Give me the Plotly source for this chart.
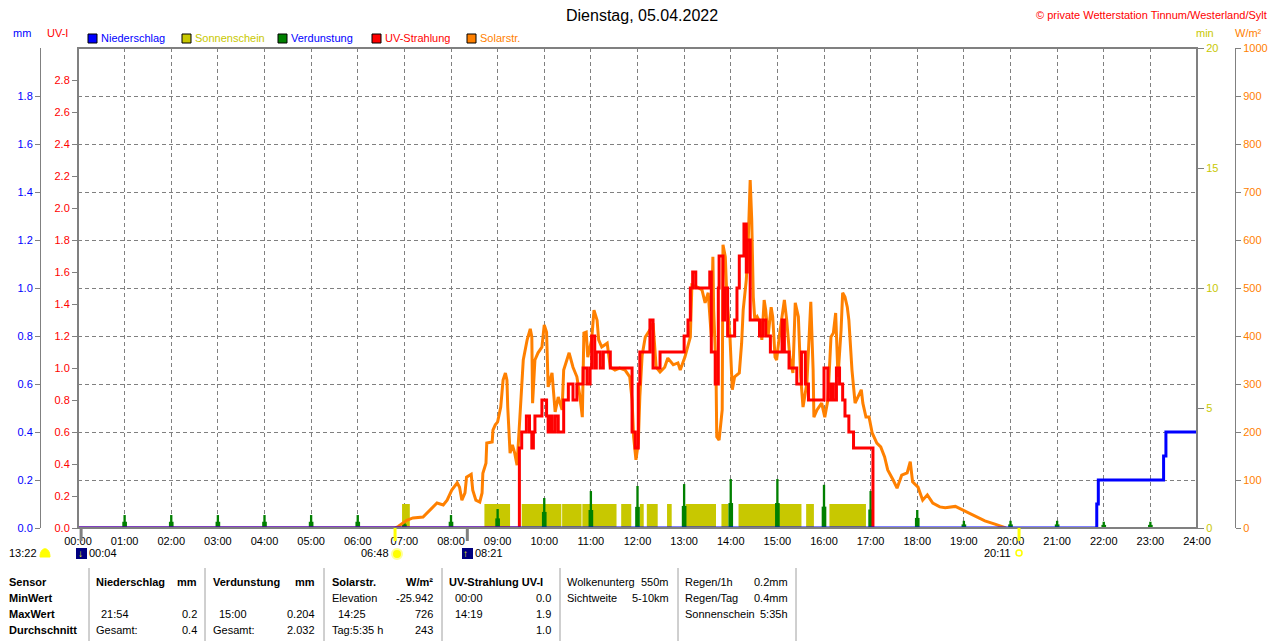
import plotly.graph_objects as go

# ---- data --------------------------------------------------------------
hour_ticks = list(range(0, 25))
hour_labels = ["%02d:00" % h for h in hour_ticks]

# solar radiation W/m2
solar_time = ["06:48", "06:52", "07:03", "07:11", "07:24", "07:33", "07:42", "07:50", "07:55", "08:01",
              "08:08", "08:11", "08:14", "08:18", "08:20", "08:26", "08:28", "08:32", "08:37", "08:40",
              "08:41", "08:45", "08:46", "08:53", "08:54", "08:57", "09:00", "09:04", "09:07", "09:10",
              "09:12", "09:13", "09:16", "09:19", "09:22", "09:25", "09:26", "09:29", "09:33", "09:38",
              "09:42", "09:44", "09:45", "09:48", "09:52", "09:57", "10:00", "10:03", "10:05", "10:10",
              "10:14", "10:18", "10:23", "10:25", "10:29", "10:32", "10:37", "10:42", "10:46", "10:49",
              "10:51", "10:54", "10:56", "11:01", "11:04", "11:08", "11:10", "11:14", "11:21", "11:25",
              "11:31", "11:37", "11:44", "11:50", "11:53", "11:55", "11:58", "12:01", "12:03", "12:06",
              "12:10", "12:16", "12:20", "12:24", "12:29", "12:35", "12:39", "12:46", "12:52", "12:55",
              "13:01", "13:08", "13:10", "13:17", "13:23", "13:27", "13:31", "13:35", "13:37", "13:38",
              "13:41", "13:42", "13:45", "13:49", "13:50", "13:53", "13:55", "13:59", "14:02", "14:05",
              "14:11", "14:14", "14:16", "14:20", "14:22", "14:25", "14:27", "14:29", "14:31", "14:34",
              "14:38", "14:40", "14:43", "14:45", "14:48", "14:52", "14:54", "14:57", "14:59", "15:03",
              "15:09", "15:12", "15:16", "15:20", "15:23", "15:27", "15:30", "15:33", "15:38", "15:43",
              "15:46", "15:47", "15:51", "15:57", "16:01", "16:05", "16:09", "16:12", "16:15", "16:18",
              "16:22", "16:24", "16:27", "16:30", "16:32", "16:36", "16:40", "16:44", "16:48", "16:50",
              "16:54", "16:58", "17:02", "17:08", "17:13", "17:18", "17:22", "17:29", "17:34", "17:40",
              "17:47", "17:51", "17:54", "18:01", "18:07", "18:13", "18:20", "18:29", "18:36", "18:49",
              "19:01", "19:14", "19:27", "19:40", "19:50", "19:54"]
solar_wm2 = [0, 3, 16, 21, 23, 37, 52, 48, 58, 79,
             94, 85, 58, 73, 106, 112, 79, 58, 54, 73,
             114, 135, 177, 179, 204, 215, 221, 252, 308, 323,
             308, 252, 156, 173, 156, 131, 156, 231, 350, 392,
             415, 398, 260, 350, 365, 377, 423, 408, 294, 323,
             242, 273, 246, 329, 350, 365, 335, 315, 273, 231,
             406, 408, 356, 392, 454, 433, 392, 377, 385, 335,
             329, 333, 329, 315, 267, 190, 142, 177, 273, 360,
             398, 413, 427, 335, 325, 335, 354, 340, 344, 329,
             356, 398, 506, 502, 496, 469, 490, 398, 565, 454,
             329, 190, 183, 246, 590, 565, 481, 398, 288, 315,
             323, 385, 454, 517, 573, 725, 642, 481, 433, 440,
             427, 392, 475, 454, 398, 460, 440, 356, 350, 406,
             475, 433, 356, 323, 469, 440, 315, 252, 302, 471,
             329, 231, 246, 260, 231, 267, 398, 406, 448, 315,
             413, 490, 481, 460, 433, 329, 260, 273, 288, 260,
             231, 231, 198, 177, 169, 148, 121, 100, 83, 110,
             115, 138, 96, 85, 58, 69, 52, 44, 42, 45,
             35, 25, 15, 8, 2, 0]

# UV index (step line)
uv_time = ["00:00", "09:28", "09:31", "09:37", "09:41", "09:44", "09:46", "09:48", "09:57", "10:03",
           "10:05", "10:07", "10:10", "10:14", "10:18", "10:25", "10:31", "10:37", "10:42", "10:50",
           "10:55", "10:59", "11:01", "11:05", "11:07", "11:12", "11:16", "11:25", "11:53", "11:57",
           "12:01", "12:03", "12:16", "12:20", "12:29", "13:00", "13:05", "13:08", "13:11", "13:15",
           "13:33", "13:35", "13:40", "13:44", "13:45", "13:50", "13:52", "13:56", "14:05", "14:08",
           "14:11", "14:17", "14:20", "14:21", "14:25", "14:37", "14:41", "14:45", "14:51", "15:06",
           "15:09", "15:15", "15:25", "15:31", "15:36", "15:40", "16:00", "16:05", "16:09", "16:12",
           "16:16", "16:20", "16:24", "16:27", "16:32", "16:38", "17:03"]
uv_index = [0, 0.5, 0.6, 0.7, 0.6, 0.5, 0.6, 0.7, 0.8, 0.7,
            0.6, 0.7, 0.6, 0.7, 0.6, 0.8, 0.9, 0.8, 0.9, 1.0,
            0.9, 1.0, 1.2, 1.0, 1.1, 1.0, 1.1, 1.0, 0.6, 0.5,
            0.9, 1.1, 1.3, 1.0, 1.1, 1.2, 1.3, 1.5, 1.6, 1.5,
            1.6, 1.1, 0.9, 1.5, 1.7, 1.3, 1.5, 1.2, 1.3, 1.5,
            1.7, 1.9, 1.6, 1.8, 1.3, 1.2, 1.3, 1.2, 1.1, 1.3,
            1.1, 1.0, 0.9, 1.1, 0.9, 0.8, 1.0, 0.8, 0.9, 0.8,
            1.0, 0.9, 0.8, 0.7, 0.6, 0.5, 0.0]

# sunshine periods (1 min per minute of sun)
sun_start = ["06:57", "08:43", "09:31", "10:23", "10:49", "11:39", "12:03", "12:12", "12:38",
             "13:02", "13:48", "14:10", "15:37", "16:07"]
sun_end = ["07:07", "09:16", "10:22", "10:48", "11:33", "11:52", "12:08", "12:26", "12:44",
           "13:41", "13:57", "15:31", "15:47", "16:54"]
sun_min = 1

# evaporation per hour (mm), spike top and its wider base
evap_hour = list(range(0, 24))
evap_top = [0, .054, .054, .054, .054, .054, .054, .026, .054, .079, .125, .154, .175, .183,
            .204, .204, .18, .154, .075, .03, .03, .03, .026, .026]
evap_base = [0, .026, .026, .026, .026, .026, .026, .015, .026, .04, .067, .075, .088, .092,
             .104, .104, .089, .077, .042, .015, .015, .015, .013, .013]

# precipitation cumulative (mm)
rain_time = ["00:00", "21:51", "21:53", "23:17", "23:20", "24:00"]
rain_mm = [0, 0.1, 0.2, 0.3, 0.4, 0.4]

# sun / moon events
events = [("00:04", "#808080"), ("06:48", "#ffff00"), ("08:21", "#808080"), ("20:11", "#ffff00")]


def hm(s):
    h, m = s.split(":")
    return int(h) + int(m) / 60


# page has an 8px body margin, so the figure is 8px smaller and shifted
OFF = 8
W, H = 1280 - OFF, 641 - OFF
FONT = "Liberation Sans"
GRAY = "#808080"
OLIVE = "#c8c800"
ORANGE = "#ff8000"


def px(x):
    return (x - OFF) / W


def py(y):
    return 1 - (y - OFF) / H


X0, X1, Y0, Y1 = 78, 1197, 48, 528

fig = go.Figure()

sun_s = [hm(t) for t in sun_start]
sun_e = [hm(t) for t in sun_end]
fig.add_trace(go.Bar(x=[(a + b) / 2 for a, b in zip(sun_s, sun_e)], y=[sun_min] * len(sun_s),
                     width=[b - a for a, b in zip(sun_s, sun_e)], marker=dict(color=OLIVE, line_width=0),
                     yaxis="y", hoverinfo="skip"))

fig.add_trace(go.Bar(x=evap_hour, y=evap_base, width=0.1, marker=dict(color="#008000", line_width=0),
                     yaxis="y2", hoverinfo="skip"))
fig.add_trace(go.Bar(x=evap_hour, y=evap_top, width=0.05, marker=dict(color="#008000", line_width=0),
                     yaxis="y2", hoverinfo="skip"))

fig.add_trace(go.Scatter(x=[hm(t) for t in solar_time], y=solar_wm2, mode="lines",
                         line=dict(color=ORANGE, width=3), yaxis="y3", hoverinfo="skip"))

fig.add_trace(go.Scatter(x=[hm(t) for t in uv_time], y=uv_index, mode="lines",
                         line=dict(color="#ff0000", width=3, shape="hv"), yaxis="y4", hoverinfo="skip"))

fig.add_trace(go.Scatter(x=[hm(t) for t in rain_time], y=rain_mm, mode="lines",
                         line=dict(color="#0000ff", width=3, shape="hv"), yaxis="y5", hoverinfo="skip"))

tick_font = dict(family=FONT, size=11)
grid = dict(showgrid=True, gridcolor=GRAY, gridwidth=1, griddash="4px,3px")

fig.update_layout(
    template="none",
    width=W, height=H, margin=dict(l=0, r=0, t=0, b=0, pad=0),
    paper_bgcolor="white", plot_bgcolor="white", showlegend=False, barmode="overlay",
    font=dict(family=FONT, size=11, color="black"),
    xaxis=dict(domain=[px(X0), px(X1)], range=[0, 24], tickvals=hour_ticks, ticktext=hour_labels,
               ticks="outside", ticklen=3, tickcolor="rgba(0,0,0,0)", zeroline=False, showline=False,
               automargin=False, tickfont=dict(tick_font, color="black"), **grid),
    yaxis=dict(domain=[py(Y1), py(Y0)], range=[0, 20], side="right", anchor="x",
               tickvals=[0, 5, 10, 15, 20], ticks="outside", ticklen=6, tickcolor=GRAY, automargin=False,
               showgrid=False, zeroline=False, tickfont=dict(tick_font, color=OLIVE)),
    yaxis2=dict(overlaying="y", side="left", anchor="free", position=px(40), range=[0, 2],
                tickvals=[i / 5 for i in range(10)], ticktext=["%.1f" % (i / 5) for i in range(10)],
                ticks="outside", ticklen=5, tickcolor=GRAY, showline=True, linecolor=GRAY, linewidth=1,
                zeroline=False, automargin=False, tickfont=dict(tick_font, color="#0000ff"), **grid),
    yaxis3=dict(overlaying="y", side="right", anchor="free", position=px(1235), range=[0, 1000],
                tickvals=list(range(0, 1001, 100)), ticks="outside", ticklen=5, tickcolor=GRAY,
                showline=True, linecolor=GRAY, linewidth=1, showgrid=False, zeroline=False,
                automargin=False, tickfont=dict(tick_font, color=ORANGE)),
    yaxis4=dict(overlaying="y", side="left", anchor="x", range=[0, 3],
                tickvals=[i / 5 for i in range(15)], ticktext=["%.1f" % (i / 5) for i in range(15)],
                ticks="outside", ticklen=5, tickcolor=GRAY, showgrid=False, zeroline=False,
                automargin=False, tickfont=dict(tick_font, color="#ff0000")),
    yaxis5=dict(overlaying="y", range=[0, 2], visible=False, automargin=False),
)

shapes = []
# plot frame
shapes.append(dict(type="rect", xref="paper", yref="paper", x0=px(X0), x1=px(X1), y0=py(Y1), y1=py(Y0),
                   line=dict(color=GRAY, width=2), layer="above"))

# sun / moon event marks under the axis
for t, c in events:
    shapes.append(dict(type="line", xref="x", yref="paper", x0=hm(t), x1=hm(t), y0=py(Y1), y1=py(541),
                       line=dict(color=c, width=3)))

ann = []


def txt(x, y, s, color="black", anchor="left", size=11, bold=False):
    if bold:
        s = "<b>" + s + "</b>"
    ann.append(dict(x=px(x), y=py(y), xref="paper", yref="paper", text=s, showarrow=False,
                    xanchor=anchor, yanchor="middle", borderpad=0,
                    font=dict(family=FONT, size=size, color=color)))


txt(642, 16, "Dienstag, 05.04.2022", anchor="center", size=16)
txt(1268, 15, "© private Wetterstation Tinnum/Westerland/Sylt", color="#ff0000", anchor="right")

txt(22, 33, "mm", color="#0000ff", anchor="center")
txt(57, 33, "UV-I", color="#ff0000", anchor="center")
txt(1205, 33, "min", color=OLIVE, anchor="center")
txt(1248, 33, "W/m²", color=ORANGE, anchor="center")

legend = [("Niederschlag", "#0000ff", "#0000ff", 88), ("Sonnenschein", OLIVE, OLIVE, 182),
          ("Verdunstung", "#008000", "#0000ff", 278), ("UV-Strahlung", "#ff0000", "#ff0000", 372),
          ("Solarstr.", ORANGE, ORANGE, 467)]
for name, fill, tcol, lx in legend:
    shapes.append(dict(type="rect", xref="paper", yref="paper", x0=px(lx), x1=px(lx + 9),
                       y0=py(43), y1=py(34), fillcolor=fill, line=dict(color="black", width=1)))
    txt(lx + 12, 38, name, color=tcol)

# sunrise / moon row
txt(38, 553, "13:22", anchor="right")
shapes.append(dict(type="path", xref="paper", yref="paper",
                   path="M %f %f C %f %f %f %f %f %f Z" % (px(40), py(557), px(40), py(546), px(50), py(546),
                                                           px(50), py(557)),
                   fillcolor="#ffff00", line=dict(color="#ffff00", width=1)))
for x0, arrow, label in [(76, "↓", "00:04"), (462, "↑", "08:21")]:
    shapes.append(dict(type="rect", xref="paper", yref="paper", x0=px(x0), x1=px(x0 + 11),
                       y0=py(559), y1=py(548), fillcolor="#000080", line_width=0))
    txt(x0 + 4, 553, arrow, color="#ffff00", anchor="center", size=10)
    txt(x0 + 12, 553, label)
shapes.append(dict(type="circle", xref="paper", yref="paper", x0=px(392), x1=px(402), y0=py(559), y1=py(549),
                   fillcolor="#ffff00", line=dict(color="#ffff99", width=2)))
txt(390, 553, "06:48", anchor="right")
txt(1012, 553, "20:11", anchor="right")
shapes.append(dict(type="circle", xref="paper", yref="paper", x0=px(1016), x1=px(1022), y0=py(556), y1=py(550),
                   line=dict(color="#ffff00", width=1.5)))

# statistics table
for sx in [89, 205, 324, 442, 560, 678, 796, 1279]:
    shapes.append(dict(type="line", xref="paper", yref="paper", x0=px(sx), x1=px(sx), y0=py(568), y1=py(641),
                       line=dict(color="#a0a0a0", width=1)))

rows = [582, 598, 614, 630]
for r, lab in zip(rows, ["Sensor", "MinWert", "MaxWert", "Durchschnitt"]):
    txt(8, r, lab, bold=True)
txt(95, rows[0], "Niederschlag", bold=True)
txt(198, rows[0], "mm", anchor="right", bold=True)
txt(212, rows[0], "Verdunstung", bold=True)
txt(316, rows[0], "mm", anchor="right", bold=True)
txt(331, rows[0], "Solarstr.", bold=True)
txt(434, rows[0], "W/m²", anchor="right", bold=True)
txt(448, rows[0], "UV-Strahlung UV-I", bold=True)
txt(566, rows[0], "Wolkenunterg")
txt(670, rows[0], "550m", anchor="right")
txt(684, rows[0], "Regen/1h")
txt(789, rows[0], "0.2mm", anchor="right")

txt(331, rows[1], "Elevation")
txt(434, rows[1], "-25.942", anchor="right")
txt(454, rows[1], "00:00")
txt(552, rows[1], "0.0", anchor="right")
txt(566, rows[1], "Sichtweite")
txt(670, rows[1], "5-10km", anchor="right")
txt(684, rows[1], "Regen/Tag")
txt(789, rows[1], "0.4mm", anchor="right")

txt(100, rows[2], "21:54")
txt(198, rows[2], "0.2", anchor="right")
txt(218, rows[2], "15:00")
txt(316, rows[2], "0.204", anchor="right")
txt(337, rows[2], "14:25")
txt(434, rows[2], "726", anchor="right")
txt(454, rows[2], "14:19")
txt(552, rows[2], "1.9", anchor="right")
txt(684, rows[2], "Sonnenschein")
txt(789, rows[2], "5:35h", anchor="right")

txt(95, rows[3], "Gesamt:")
txt(198, rows[3], "0.4", anchor="right")
txt(212, rows[3], "Gesamt:")
txt(316, rows[3], "2.032", anchor="right")
txt(331, rows[3], "Tag:5:35 h")
txt(434, rows[3], "243", anchor="right")
txt(552, rows[3], "1.0", anchor="right")

fig.update_layout(shapes=shapes, annotations=ann)

fig.write_html("out.html")
